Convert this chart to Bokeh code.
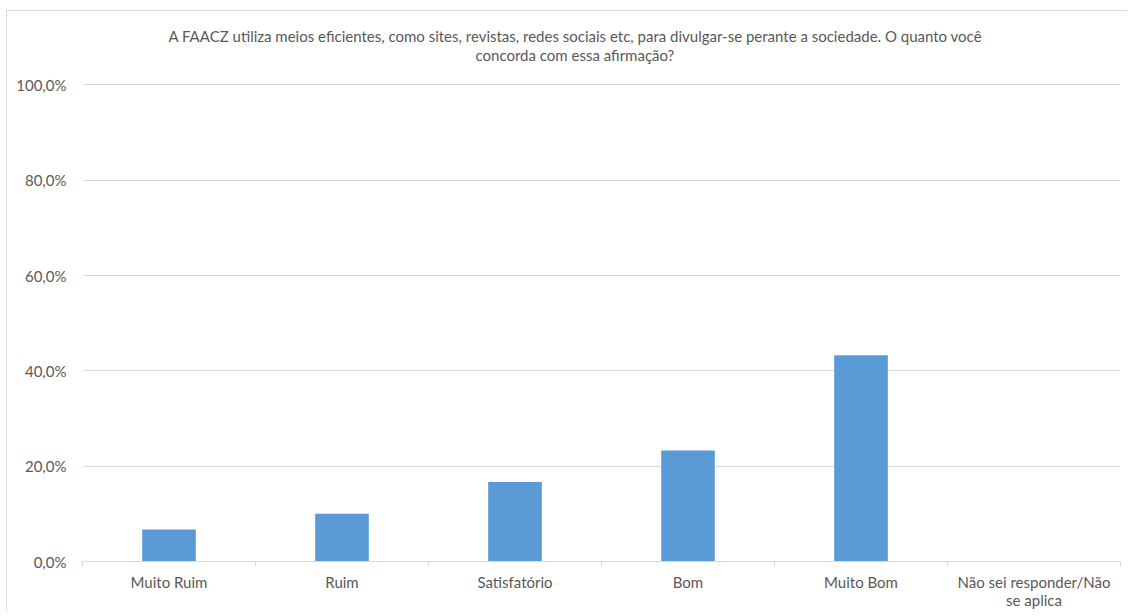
import numpy as np
from bokeh.plotting import figure
from bokeh.models import (ColumnDataSource, Range1d, FixedTicker, CustomJSTickFormatter, Title)
from bokeh.embed import file_html
from bokeh.resources import INLINE

categories = ["Muito Ruim", "Ruim", "Satisfatório", "Bom", "Muito Bom", "Não sei responder/Não\nse aplica"]
values = [6.7, 10.0, 16.7, 23.3, 43.3, 0.0]
y_ticks = [0, 20, 40, 60, 80, 100]
title_lines = [
    "A FAACZ utiliza meios eficientes, como sites, revistas, redes sociais etc, para divulgar-se perante a sociedade. O quanto você",
    "concorda com essa afirmação?",
]

FONT = "Lato"
TXT = "#595959"
GRID = "#d9d9d9"

x_pos = np.arange(len(categories)) + 0.5
src = ColumnDataSource(dict(x=x_pos, top=values, cat=categories))

p = figure(width=1121, height=601, output_backend="svg", toolbar_location=None,
           x_range=Range1d(0, len(categories)), y_range=Range1d(0, 100.3),
           min_border_left=75, min_border_right=8, min_border_top=72, min_border_bottom=50)
p.outline_line_color = None
p.title = None
p.styles = {"border-left": "1px solid #d9d9d9", "border-top": "1px solid #d9d9d9",
            "margin-left": "6px", "margin-top": "10px"}

p.vbar(x="x", top="top", width=0.31, source=src, fill_color="#5B9BD5", line_color=None)

# y axis
p.yaxis.ticker = FixedTicker(ticks=y_ticks, minor_ticks=[])
p.yaxis.formatter = CustomJSTickFormatter(code="return tick.toFixed(1).replace('.', ',') + '%';")
p.yaxis.axis_line_color = None
p.yaxis.major_tick_line_color = None
p.yaxis.minor_tick_line_color = None
p.yaxis.major_tick_out = 0
p.yaxis.minor_tick_out = 0
p.yaxis.major_label_text_font = FONT
p.yaxis.major_label_text_font_size = "15px"
p.yaxis.major_label_text_color = TXT
p.yaxis.major_label_standoff = 16
p.ygrid.grid_line_color = GRID
p.ygrid.ticker = FixedTicker(ticks=y_ticks)

# x axis
p.xaxis.ticker = FixedTicker(ticks=list(x_pos), minor_ticks=list(range(len(categories) + 1)))
p.xaxis.major_label_overrides = {float(x): c for x, c in zip(x_pos, categories)}
p.xaxis.axis_line_color = GRID
p.xaxis.major_tick_line_color = None
p.xaxis.major_tick_out = 0
p.xaxis.minor_tick_line_color = GRID
p.xaxis.minor_tick_out = 5
p.xaxis.minor_tick_in = 0
p.xaxis.major_label_text_font = FONT
p.xaxis.major_label_text_font_size = "15px"
p.xaxis.major_label_text_line_height = 1.05
p.xaxis.major_label_text_color = TXT
p.xaxis.major_label_standoff = 6
p.xgrid.grid_line_color = None

# title (two lines)
t2 = Title(text=title_lines[1], align="left", text_font=FONT, text_font_size="15px",
           text_color=TXT, text_font_style="normal", standoff=40, offset=393)
t1 = Title(text=title_lines[0], align="left", text_font=FONT, text_font_size="15px",
           text_color=TXT, text_font_style="normal", standoff=-42, offset=86)
p.add_layout(t2, "above")
p.add_layout(t1, "above")

open("out.html", "w").write(file_html(p, INLINE))
